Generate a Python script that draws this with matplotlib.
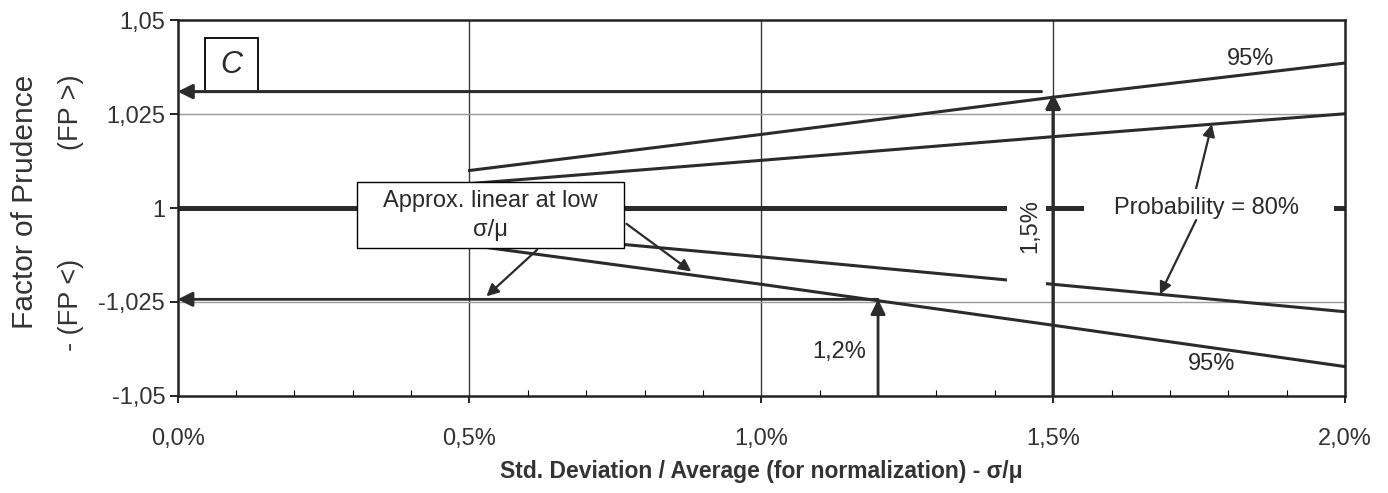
import matplotlib
matplotlib.use("Agg")
import matplotlib.pyplot as plt
import numpy as np
from matplotlib.patches import Rectangle

plt.rcParams['font.family'] = ['Liberation Sans', 'DejaVu Sans']

# ---- data (x in %, y as signed deviation of FP from 1) ----
x_pts = [0.5, 1.0, 1.5, 2.0]
upper_95 = [0.0100, 0.0196, 0.0295, 0.0386]
upper_80 = [0.0065, 0.0127, 0.0190, 0.0251]
lower_80 = [-0.0060, -0.0130, -0.0203, -0.0276]
lower_95 = [-0.0099, -0.0203, -0.0312, -0.0422]
center_x = [0.0, 2.0]
center_y = [0.0, 0.0]

xticks = [0.0, 0.5, 1.0, 1.5, 2.0]
xtick_labels = ['0,0%', '0,5%', '1,0%', '1,5%', '2,0%']
yticks = [0.05, 0.025, 0.0, -0.025, -0.05]
ytick_labels = ['1,05', '1,025', '1', '-1,025', '-1,05']

fp_gt_value = 0.0305      # FP> read at 1.5 %
fp_gt_x = 1.5
fp_lt_value = -0.0243     # FP< read at 1.2 %
fp_lt_x = 1.2

ink = '#2b2b2b'
txt = '#2a2a2a'

fig = plt.figure(figsize=(13.88, 4.93), dpi=100)
ax = fig.add_axes([0.128, 0.197, 0.841, 0.762])
ax.set_xlim(0, 2.0)
ax.set_ylim(-0.05, 0.05)

# gridlines
for xv in xticks[1:-1]:
    ax.axvline(xv, color='#3a3a3a', lw=1.0, zorder=1)
for yv in [0.025, -0.025]:
    ax.axhline(yv, color='#9a9a9a', lw=1.0, zorder=1)

# curves
ax.plot(center_x, center_y, color=ink, lw=3.6, zorder=2, solid_capstyle='butt')
for ys in (upper_95, upper_80, lower_80, lower_95):
    ax.plot(x_pts, ys, color=ink, lw=2.2, zorder=2)

# masks behind labels
ax.add_patch(Rectangle((1.421, -0.0235), 0.067, 0.0275, facecolor='white',
                       edgecolor='none', zorder=3))
ax.add_patch(Rectangle((1.553, -0.006), 0.428, 0.012, facecolor='white',
                       edgecolor='none', zorder=3))
ax.add_patch(Rectangle((0.308, -0.0106), 0.457, 0.0175, facecolor='white',
                       edgecolor='black', lw=1.0, zorder=3))

fs = 17
ax.text(0.536, -0.0020, 'Approx. linear at low\nσ/μ', ha='center', va='center',
        fontsize=fs, color=txt, zorder=4, linespacing=1.45)
ax.text(1.762, 0.0, 'Probability = 80%', ha='center', va='center',
        fontsize=fs, color=txt, zorder=4)
ax.text(1.461, -0.0048, '1,5%', ha='center', va='center', rotation=90,
        fontsize=fs, color=txt, zorder=4)
ax.text(1.18, -0.0384, '1,2%', ha='right', va='center', fontsize=fs,
        color=txt, zorder=4)
ax.text(1.839, 0.0397, '95%', ha='center', va='center', fontsize=fs,
        color=txt, zorder=4)
ax.text(1.771, -0.0415, '95%', ha='center', va='center', fontsize=fs,
        color=txt, zorder=4)

# C box
ax.add_patch(Rectangle((0.023, 0.81), 0.046, 0.142, transform=ax.transAxes,
                       facecolor='white', edgecolor='black', lw=1.3, zorder=4))
ax.text(0.046, 0.881, 'C', transform=ax.transAxes, ha='center', va='center',
        fontsize=22, fontstyle='italic', color=txt, zorder=5)

def arrow(x0, y0, x1, y1, lw=2.0, ms=22):
    ax.annotate('', xy=(x1, y1), xytext=(x0, y0),
                arrowprops=dict(arrowstyle='-|>', color=ink, lw=lw,
                                mutation_scale=ms, shrinkA=0, shrinkB=0),
                zorder=6)

# reading arrows
arrow(fp_gt_x, -0.05, fp_gt_x, fp_gt_value, lw=2.4)
arrow(1.48, fp_gt_value + 0.0005, 0.0, fp_gt_value + 0.0005, lw=2.2)
arrow(fp_lt_x, -0.05, fp_lt_x, fp_lt_value, lw=2.0)
arrow(fp_lt_x, fp_lt_value, 0.0, fp_lt_value, lw=2.0)

# annotation arrows
arrow(0.616, -0.0111, 0.529, -0.0235, lw=1.6, ms=18)
arrow(0.769, -0.0042, 0.880, -0.0169, lw=1.6, ms=18)
arrow(1.745, 0.0053, 1.772, np.interp(1.772, x_pts, upper_80), lw=1.6, ms=18)
arrow(1.745, -0.0032, 1.683, np.interp(1.683, x_pts, lower_80), lw=1.6, ms=18)

# axes styling
ax.set_xticks(xticks)
ax.set_xticklabels(xtick_labels)
ax.set_yticks(yticks)
ax.set_yticklabels(ytick_labels)
ax.set_xticks(np.arange(0.1, 2.0, 0.1), minor=True)
ax.tick_params(axis='x', which='major', direction='out', length=5, width=1.2,
               pad=18, labelsize=17, labelcolor='#333')
ax.tick_params(axis='x', which='minor', direction='in', length=4, width=0.8)
ax.tick_params(axis='y', which='major', direction='out', length=6, width=1.2,
               pad=3, labelsize=17, labelcolor='#333')
for s in ax.spines.values():
    s.set_linewidth(1.8)
    s.set_color('#222')

ax.set_xlabel('Std. Deviation / Average (for normalization) - σ/μ',
              fontsize=16.5, fontweight='bold', color='#333', labelpad=7)

fig.text(25 / 1388, 1 - 202 / 493, 'Factor of Prudence', rotation=90,
         ha='center', va='center', fontsize=21.5, color='#333')
fig.text(71 / 1388, 1 - 112 / 493, '(FP >)', rotation=90,
         ha='center', va='center', fontsize=19.5, color='#333')
fig.text(71 / 1388, 1 - 305 / 493, '- (FP <)', rotation=90,
         ha='center', va='center', fontsize=19.5, color='#333')

fig.savefig('out.png', dpi=100, facecolor='white')
